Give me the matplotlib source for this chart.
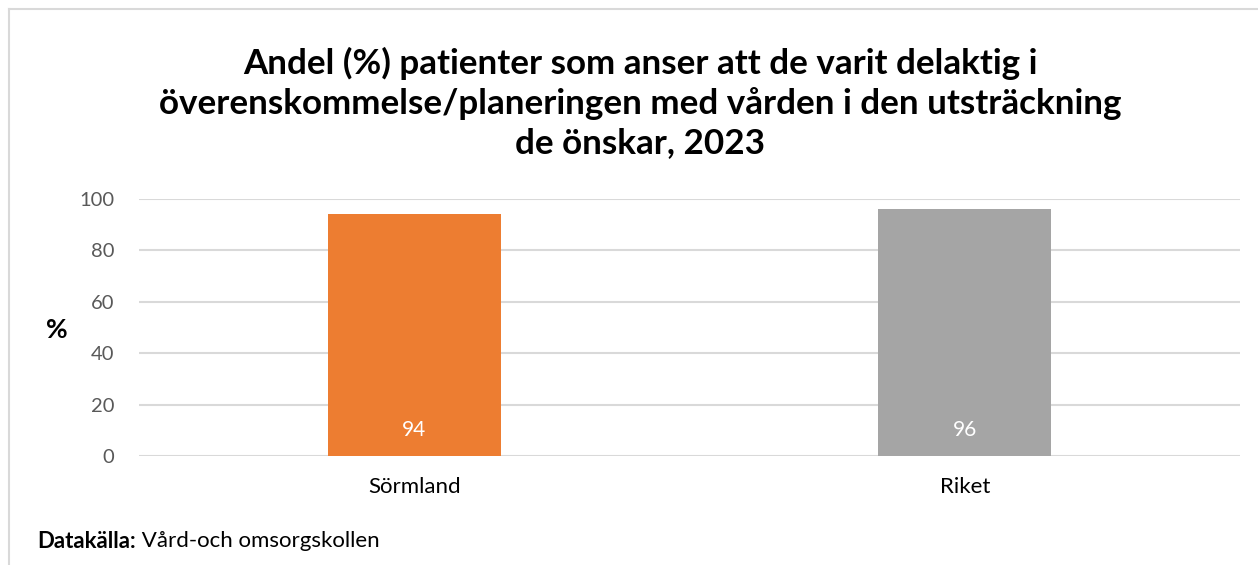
import matplotlib
matplotlib.use('Agg')
import matplotlib.pyplot as plt
from matplotlib.lines import Line2D

# Data
categories = ['Sörmland', 'Riket']
values = [94, 96]
bar_colors = ['#ED7D31', '#A5A5A5']
yticks = [0, 20, 40, 60, 80, 100]

title = ("Andel (%) patienter som anser att de varit delaktig i\n"
         "överenskommelse/planeringen med vården i den utsträckning\n"
         "de önskar, 2023")

plt.rcParams['font.family'] = ['Lato', 'DejaVu Sans']

fig = plt.figure(figsize=(12.58, 5.65), dpi=100)

# light frame round the chart (top and left edge visible)
fig.add_artist(Line2D([9/1258, 9/1258], [0, 1 - 9/565], color='#d9d9d9', lw=1.5, transform=fig.transFigure))
fig.add_artist(Line2D([9/1258, 1], [1 - 9/565, 1 - 9/565], color='#d9d9d9', lw=1.5, transform=fig.transFigure))

ax = fig.add_axes([139/1258, 1 - 456/565, (1240 - 139)/1258, (456 - 199)/565])

x = list(range(len(categories)))
bars = ax.bar(x, values, width=0.314, color=bar_colors, zorder=3)

ax.set_xlim(-0.5, len(categories) - 0.5)
ax.set_ylim(0, 100)
ax.set_yticks(yticks)
ax.set_yticklabels([str(t) for t in yticks], fontsize=14.5, color='#595959')
ax.set_xticks(x)
ax.set_xticklabels(categories, fontsize=16, color='black')
ax.tick_params(axis='both', length=0)
ax.tick_params(axis='y', pad=18)
ax.tick_params(axis='x', pad=15)

ax.grid(True, axis='y', color='#d9d9d9', lw=1.5, zorder=0)
for s in ax.spines.values():
    s.set_visible(False)

# data labels near bottom of the bars
for xi, v in zip(x, values):
    ax.text(xi, 10, str(v), ha='center', va='center', color='white', fontsize=15, zorder=4)

fig.text(57/1258, 1 - 330/565, '%', ha='center', va='center', fontsize=19, fontweight='bold')

fig.text(640/1258, 1 - 103/565, title, ha='center', va='center', fontsize=25.2,
         fontweight='bold', linespacing=1.28)

# source line: bold label followed by normal text
src = fig.text(37/1258, 1 - 541/565, 'Datakälla:', ha='left', va='center', fontsize=16, fontweight='bold')
ax.annotate(' Vård-och omsorgskollen', xy=(1, 0.5), xycoords=src, ha='left', va='center', fontsize=16)

plt.savefig('out.png', dpi=100)
